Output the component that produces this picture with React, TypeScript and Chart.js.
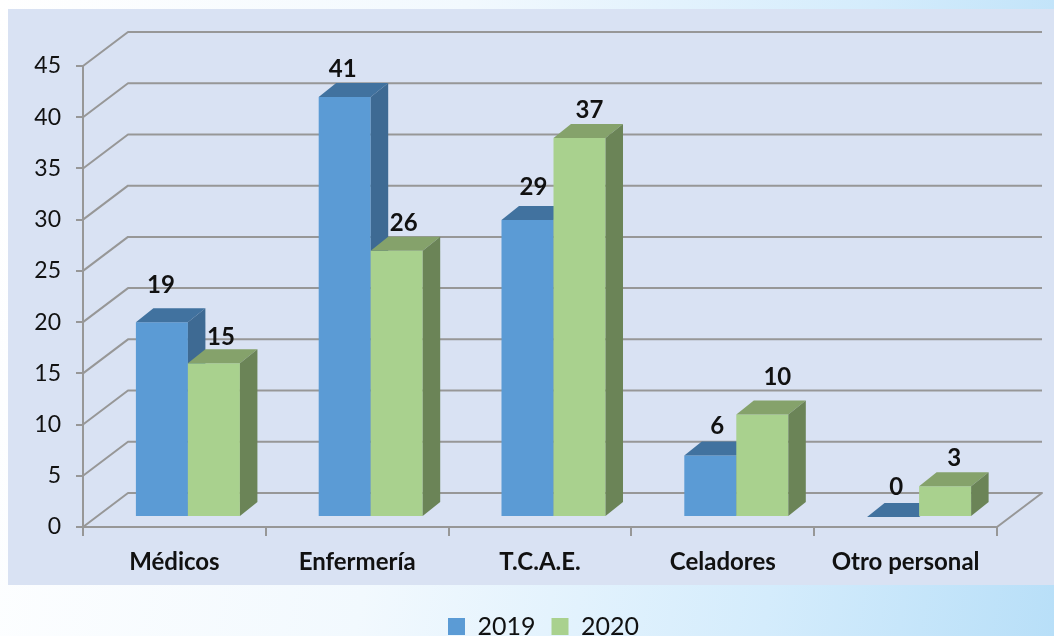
import React, { useEffect, useRef } from "react";
import { Chart, registerables } from "chart.js";

Chart.register(...registerables);

const categories = ["Médicos", "Enfermería", "T.C.A.E.", "Celadores", "Otro personal"];
const values2019 = [19, 41, 29, 6, 0];
const values2020 = [15, 26, 37, 10, 3];

const FONT = "Lato";
const LINE = "#979797";
const WALL = { dx: 45, dy: -34 };
const BAR_SHIFT = { dx: 13.5, dy: -10 };
const DEPTH = { dx: 17.5, dy: -14 };
const FACES = [
  { top: "#41729f", side: "#3e6a93" },
  { top: "#85a26b", side: "#6b8457" },
];
// Hand placement of the value labels relative to each bar's top centre
const LABEL_NUDGE = [
  [[-1, -37], [-2, -28], [6, -33], [7, -29], [3, -30]],
  [[7, -26], [7, -27], [10, -28], [15, -37], [9, -28]],
];

function poly(ctx: CanvasRenderingContext2D, pts: number[][], fill: string) {
  ctx.fillStyle = fill;
  ctx.beginPath();
  pts.forEach((p, i) => (i ? ctx.lineTo(p[0], p[1]) : ctx.moveTo(p[0], p[1])));
  ctx.closePath();
  ctx.fill();
}

const scene3d = {
  id: "scene3d",
  afterLayout(chart: any) {
    const lg = chart.legend;
    lg.top += 13;
    lg.bottom += 13;
    lg.left += 45;
    lg.right += 45;
  },
  beforeDraw(chart: any) {
    const ctx = chart.ctx;
    ctx.save();
    ctx.fillStyle = "#d9e2f3";
    ctx.fillRect(8, 9, 1046, 576);
    ctx.restore();
  },
  beforeDatasetsDraw(chart: any) {
    const ctx = chart.ctx;
    const { left, right } = chart.chartArea;
    const y = chart.scales.y;
    ctx.save();
    ctx.strokeStyle = LINE;
    ctx.lineWidth = 2;
    ctx.lineJoin = "round";
    y.ticks.forEach((t: any) => {
      const py = y.getPixelForValue(t.value);
      ctx.beginPath();
      ctx.moveTo(left, py);
      ctx.lineTo(left + WALL.dx, py + WALL.dy);
      ctx.lineTo(right + WALL.dx, py + WALL.dy);
      if (t.value === 0) ctx.lineTo(right, py);
      ctx.stroke();
    });
    ctx.restore();

    // Series are painted front-to-back in dataset order, so 2020 overlaps the side of 2019
    ctx.save();
    ctx.translate(BAR_SHIFT.dx, BAR_SHIFT.dy);
    chart.data.datasets.forEach((_: any, d: number) => {
      const meta = chart.getDatasetMeta(d);
      meta.controller.draw();
      const face = FACES[d];
      meta.data.forEach((el: any) => {
        const { x, y: top, base, width } = el.getProps(["x", "y", "base", "width"], true);
        const l = x - width / 2;
        const r = x + width / 2;
        const dx = DEPTH.dx;
        const dy = DEPTH.dy;
        poly(ctx, [[l, top], [r, top], [r + dx, top + dy], [l + dx, top + dy]], face.top);
        if (base - top > 0) poly(ctx, [[r, top], [r + dx, top + dy], [r + dx, base + dy], [r, base]], face.side);
      });
    });
    ctx.restore();

    ctx.save();
    ctx.fillStyle = "#111";
    ctx.font = `bold 24px ${FONT}`;
    ctx.textAlign = "center";
    ctx.textBaseline = "middle";
    chart.data.datasets.forEach((ds: any, d: number) => {
      chart.getDatasetMeta(d).data.forEach((el: any, i: number) => {
        const { x, y: top } = el.getProps(["x", "y"], true);
        const [nx, ny] = LABEL_NUDGE[d][i];
        ctx.fillText(String(ds.data[i]), x + BAR_SHIFT.dx + nx, top + BAR_SHIFT.dy + ny);
      });
    });
    ctx.restore();
    return false;
  },
};

export default function App() {
  const ref = useRef<HTMLCanvasElement>(null);
  useEffect(() => {
    const chart = new Chart(ref.current as HTMLCanvasElement, {
      type: "bar",
      data: {
        labels: categories,
        datasets: [
          { label: "2019", data: values2019, backgroundColor: "#5b9bd5" },
          { label: "2020", data: values2020, backgroundColor: "#a9d18e" },
        ],
      },
      options: {
        responsive: false,
        animation: false,
        layout: { padding: { left: 0, right: 57, top: 66, bottom: 0 } },
        datasets: { bar: { categoryPercentage: 0.569, barPercentage: 1, borderWidth: 0 } },
        scales: {
          x: {
            afterFit: (s: any) => { s.height = 58; },
            grid: { drawOnChartArea: false, color: LINE, lineWidth: 2, tickLength: 9, offset: true },
            border: { color: LINE, width: 2 },
            ticks: { color: "#111", font: { family: FONT, size: 24, weight: "bold" }, padding: 12, maxRotation: 0 },
          },
          y: {
            min: 0,
            max: 45,
            afterFit: (s: any) => { s.width = 83; },
            grid: { drawOnChartArea: false, color: LINE, lineWidth: 2, tickLength: 7 },
            border: { color: LINE, width: 2 },
            ticks: { stepSize: 5, color: "#111", font: { family: FONT, size: 23 }, padding: 15 },
          },
        },
        plugins: {
          tooltip: { enabled: false },
          legend: {
            position: "bottom",
            labels: {
              boxWidth: 17,
              boxHeight: 17,
              padding: 16,
              color: "#111",
              font: { family: FONT, size: 25 },
            },
          },
        },
      } as any,
      plugins: [scene3d],
    });
    return () => chart.destroy();
  }, []);
  return (
    <div
      style={{
        position: "fixed",
        left: 0,
        top: 0,
        width: 1054,
        height: 636,
        overflow: "hidden",
        background: "linear-gradient(100deg, #ffffff 0%, #f2f9fe 40%, #d4ecfc 75%, #b8dff8 100%)",
      }}
    >
      <canvas ref={ref} width={1054} height={636} style={{ display: "block" }} />
    </div>
  );
}
